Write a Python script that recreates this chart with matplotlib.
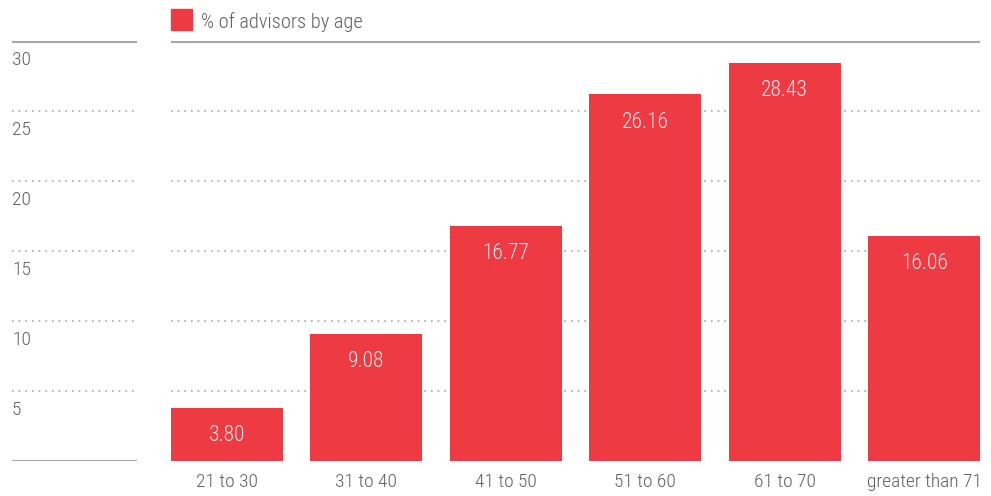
import matplotlib.pyplot as plt
from matplotlib.patches import Rectangle

# advisor age distribution
age_groups = ["21 to 30", "31 to 40", "41 to 50", "51 to 60", "61 to 70", "greater than 71"]
pct_advisors = [3.80, 9.08, 16.77, 26.16, 28.43, 16.06]
y_ticks = [5, 10, 15, 20, 25, 30]
series_name = "% of advisors by age"

BAR_RED = "#ED3A43"
LINE_GREY = "#A8A8A8"
TEXT_GREY = "#5F5F5F"

plt.rcParams["font.family"] = ["Roboto Condensed", "DejaVu Sans"]
plt.rcParams["font.weight"] = 300

W, H = 991, 496
fig = plt.figure(figsize=(W / 100, H / 100), dpi=100)


def fig_rect(x0, y0, x1, y1):
    """pixel box (top-left origin) -> figure fraction rect"""
    return [x0 / W, 1 - y1 / H, (x1 - x0) / W, (y1 - y0) / H]


y_top, y_bottom = 40.7, 460.7

# left strip holding the value scale
ax_scale = fig.add_axes(fig_rect(12, y_top, 137, y_bottom))
# main plotting area
ax = fig.add_axes(fig_rect(171, y_top, 980, y_bottom))

for a in (ax_scale, ax):
    a.set_ylim(0, 30)
    a.axis("off")
    for t in y_ticks[:-1]:
        a.axhline(t, color=LINE_GREY, lw=1.2, ls=(0, (1, 3)), zorder=0)
    a.axhline(30, color=LINE_GREY, lw=2.2, zorder=1)

ax_scale.set_xlim(0, 1)
ax_scale.axhline(0, color=LINE_GREY, lw=2.2)
for t in y_ticks:
    ax_scale.annotate(str(t), xy=(0, t), xytext=(0, -14), textcoords="offset points",
                      ha="left", va="center", fontsize=14, color=TEXT_GREY)

x = list(range(len(age_groups)))
bars = ax.bar(x, pct_advisors, width=0.8, color=BAR_RED, zorder=2)
# outer bars sit flush with the frame edges
ax.set_xlim(-0.4, len(age_groups) - 0.6)

for xi, v in zip(x, pct_advisors):
    ax.annotate(f"{v:.2f}", xy=(xi, v), xytext=(0, -20), textcoords="offset points",
                ha="center", va="center", fontsize=15.5, color="#FFE8E8", zorder=3)
    ax.annotate(age_groups[xi], xy=(xi, 0), xytext=(0, -15), textcoords="offset points",
                ha="center", va="center", fontsize=14, color=TEXT_GREY,
                annotation_clip=False)

# legend swatch and label above the main area
fig.patches.append(Rectangle((171 / W, 1 - 30 / H), 21 / W, 21 / H,
                             transform=fig.transFigure, color=BAR_RED))
fig.text(201 / W, 1 - 22 / H, series_name, ha="left", va="center",
         fontsize=14.7, color=TEXT_GREY)

fig.savefig("out.png", dpi=100)
